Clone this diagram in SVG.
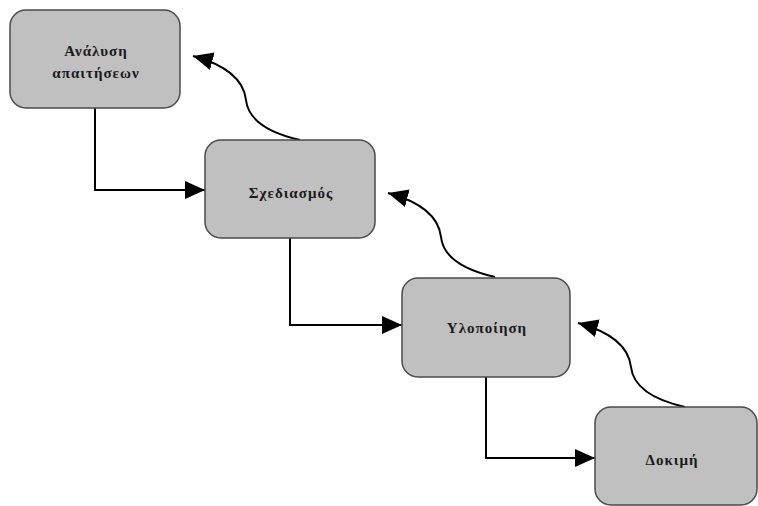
<svg xmlns="http://www.w3.org/2000/svg" width="758" height="506" viewBox="0 0 758 506">
  <style>
    .box { fill: #c0c0c0; stroke: #4a4a4a; stroke-width: 1.5; }
    .lbl { font-family: "Liberation Serif", "DejaVu Serif", serif; font-weight: bold; font-size: 15px; letter-spacing: 1px; fill: #1a1a1a; text-anchor: middle; }
    .edge { fill: none; stroke: #000; stroke-width: 2; }
  </style>
  <defs>
    <marker id="arrow" markerUnits="userSpaceOnUse" markerWidth="22" markerHeight="20" refX="20" refY="9" orient="auto">
      <path d="M0,0 L20,9 L0,18 Z" fill="#000"/>
    </marker>
  </defs>

  <rect width="758" height="506" fill="#fff"/>

  <g id="connectors">
    <!-- forward steps: down then right into the next phase -->
    <path class="edge" d="M95,108 V190 H205" marker-end="url(#arrow)"/>
    <path class="edge" d="M290,238 V325 H402" marker-end="url(#arrow)"/>
    <path class="edge" d="M486,377 V458 H595" marker-end="url(#arrow)"/>
    <!-- feedback curves back to the previous phase -->
    <path class="edge" d="M300,140 C265,132 248,118 246,100 C244,82 230,66 193,56" marker-end="url(#arrow)"/>
    <path class="edge" d="M495,277 C460,269 443,255 441,237 C439,219 425,203 388,193" marker-end="url(#arrow)"/>
    <path class="edge" d="M685,407 C650,399 633,385 631,367 C629,349 615,333 578,323" marker-end="url(#arrow)"/>
  </g>

  <g id="analysis">
    <rect class="box" x="10" y="10" width="170" height="98" rx="16"/>
    <text class="lbl" x="96" y="56">Ανάλυση</text>
    <text class="lbl" x="96" y="78">απαιτήσεων</text>
  </g>
  <g id="design">
    <rect class="box" x="205" y="140" width="170" height="98" rx="16"/>
    <text class="lbl" x="291" y="198">Σχεδιασμός</text>
  </g>
  <g id="implementation">
    <rect class="box" x="402" y="278" width="168" height="99" rx="16"/>
    <text class="lbl" x="487" y="333">Υλοποίηση</text>
  </g>
  <g id="testing">
    <rect class="box" x="595" y="407" width="162" height="98" rx="16"/>
    <text class="lbl" x="672" y="465">Δοκιμή</text>
  </g>
</svg>
